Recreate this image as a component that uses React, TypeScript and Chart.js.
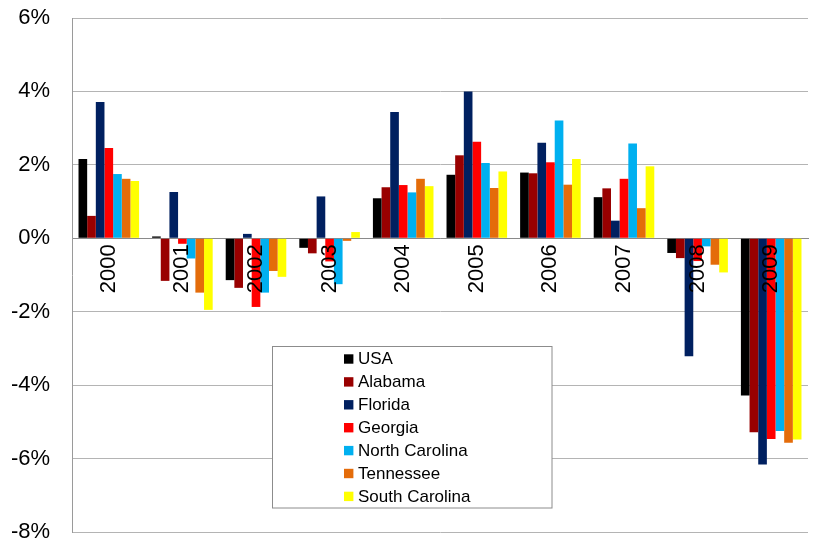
import React, { useEffect, useRef } from "react";
import { Chart, registerables } from "chart.js";

Chart.register(...registerables);

const categories = ["2000", "2001", "2002", "2003", "2004", "2005", "2006", "2007", "2008", "2009"];
const seriesNames = ["USA", "Alabama", "Florida", "Georgia", "North Carolina", "Tennessee", "South Carolina"];
const seriesColors = ["#000000", "#990000", "#002060", "#ff0000", "#00b0f0", "#e46c0a", "#ffff00"];

const usa = [2.16, 0.05, -1.14, -0.26, 1.09, 1.73, 1.79, 1.12, -0.4, -4.28];
const alabama = [0.61, -1.16, -1.35, -0.41, 1.39, 2.26, 1.77, 1.36, -0.54, -5.28];
const florida = [3.71, 1.26, 0.12, 1.14, 3.44, 4.0, 2.6, 0.48, -3.21, -6.16];
const georgia = [2.46, -0.15, -1.87, -0.63, 1.45, 2.63, 2.07, 1.62, -0.62, -5.47];
const northCarolina = [1.75, -0.55, -1.48, -1.25, 1.25, 2.05, 3.21, 2.58, -0.22, -5.25];
const tennessee = [1.62, -1.48, -0.89, -0.07, 1.62, 1.37, 1.46, 0.82, -0.72, -5.57];
const southCarolina = [1.56, -1.95, -1.05, 0.17, 1.42, 1.82, 2.16, 1.96, -0.93, -5.48];

const seriesValues = [usa, alabama, florida, georgia, northCarolina, tennessee, southCarolina];

const yMin = -8;
const yMax = 6;
const yStep = 2;

const FONT = "'Liberation Sans', Arial, sans-serif";

const boxLegend = {
  id: "boxLegend",
  afterDraw(chart: any) {
    const ctx = chart.ctx;
    const x0 = 272.5, y0 = 346.5, w = 279.5, h = 161.5;
    ctx.save();
    ctx.fillStyle = "#ffffff";
    ctx.fillRect(x0, y0, w, h);
    ctx.strokeStyle = "#8c8c8c";
    ctx.lineWidth = 1;
    ctx.strokeRect(x0, y0, w, h);
    ctx.font = "17px " + FONT;
    ctx.textBaseline = "middle";
    ctx.textAlign = "left";
    chart.data.datasets.forEach((ds: any, i: number) => {
      const cy = 359 + i * 22.9;
      ctx.fillStyle = ds.backgroundColor;
      ctx.fillRect(344, cy - 4.7, 9.4, 9.4);
      ctx.fillStyle = "#000000";
      ctx.fillText(ds.label, 358, cy + 0.5);
    });
    ctx.restore();
  },
};

export default function App() {
  const ref = useRef<HTMLCanvasElement | null>(null);

  useEffect(() => {
    document.body.style.margin = "0";
    document.body.style.overflow = "hidden";
    document.documentElement.style.overflow = "hidden";
    if (!ref.current) return;
    const chart = new Chart(ref.current, {
      type: "bar",
      data: {
        labels: categories,
        datasets: seriesNames.map((name, i) => ({
          label: name,
          data: seriesValues[i],
          backgroundColor: seriesColors[i],
          borderWidth: 0,
          categoryPercentage: 0.823,
          barPercentage: 1.0,
        })),
      },
      options: {
        animation: false,
        responsive: false,
        maintainAspectRatio: false,
        layout: { padding: { left: 11, right: 9, top: 18, bottom: 13 } },
        plugins: {
          legend: { display: false },
          tooltip: { enabled: false },
          title: { display: false },
        },
        scales: {
          x: {
            position: { y: 0 } as any,
            grid: { display: false, drawTicks: false },
            border: { display: true, color: "#8a8a8a", width: 1 },
            ticks: {
              z: 1,
              minRotation: 90,
              maxRotation: 90,
              padding: 6,
              color: "#000000",
              font: { family: FONT, size: 22 },
              autoSkip: false,
            },
            afterFit: (s: any) => {
              s.paddingLeft = 0;
              s.paddingRight = 0;
              s.paddingTop = 0;
              s.paddingBottom = 0;
            },
          },
          y: {
            min: yMin,
            max: yMax,
            grid: { color: "#b4b4b4", lineWidth: 1, drawTicks: false },
            border: { display: true, color: "#9a9a9a", width: 1 },
            ticks: {
              stepSize: yStep,
              padding: 22,
              color: "#000000",
              font: { family: FONT, size: 22 },
              callback: (v: any) => v + "%",
            },
            afterFit: (s: any) => {
              s.width = 61;
              s.paddingTop = 0;
              s.paddingBottom = 0;
            },
          },
        },
      },
      plugins: [boxLegend],
    });
    return () => chart.destroy();
  }, []);

  return (
    <div style={{ width: 817, height: 545 }}>
      <canvas ref={ref} width={817} height={545} style={{ display: "block" }} />
    </div>
  );
}
